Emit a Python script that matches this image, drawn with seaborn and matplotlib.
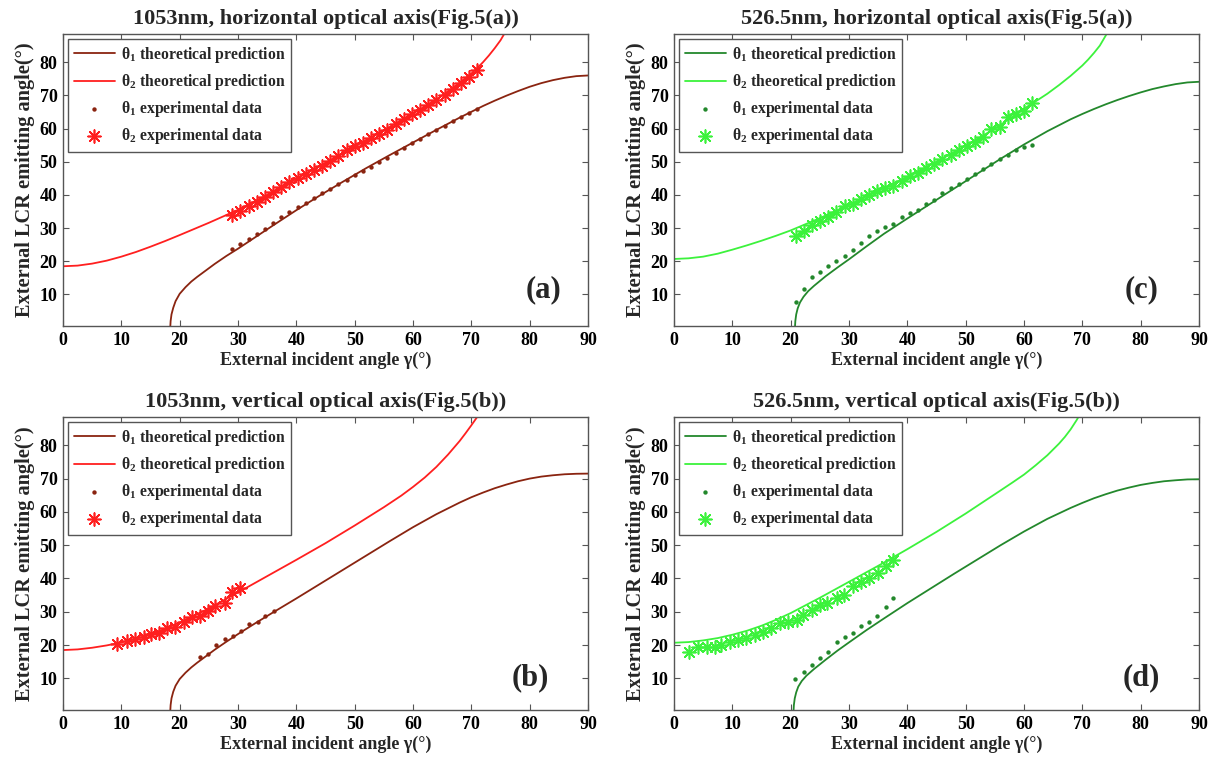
import matplotlib
matplotlib.use("Agg")
import matplotlib.pyplot as plt
import seaborn as sns

# ---------------- data: panel (a) 1053nm horizontal ----------------
a_th1_x = [18.4, 18.45, 18.6, 18.9, 19.3, 20, 21, 22, 23, 24, 26, 28, 30, 33, 36, 40, 44, 48, 52, 56, 60, 64, 68,
           72, 74, 76, 78, 80, 82, 84, 86, 88, 90]
a_th1_y = [0.5, 2.0, 4.0, 6.0, 8.0, 10.2, 12.2, 13.9, 15.3, 16.6, 19.2, 21.6, 23.8, 27.3, 30.8, 35.4, 39.8, 44.0,
           48.1, 52.0, 55.8, 59.6, 63.3, 66.8, 68.4, 69.9, 71.3, 72.6, 73.7, 74.6, 75.3, 75.8, 76.0]
a_th2_x = [0, 2.5, 5, 7.5, 10, 12.5, 15, 17.5, 20, 25, 30, 35, 40, 45, 50, 55, 60, 62, 64, 66, 68, 70, 71, 72,
           73, 74, 75, 75.8]
a_th2_y = [18.5, 18.7, 19.3, 20.2, 21.4, 22.8, 24.4, 26.1, 27.9, 31.6, 35.5, 40.0, 44.8, 49.7, 54.6, 59.5, 64.5,
           66.6, 68.8, 71.2, 73.8, 76.6, 78.2, 80.0, 82.0, 84.2, 86.6, 89.0]
a_exp_x = [29.0, 30.4, 31.8, 33.2, 34.6, 36.0, 37.4, 38.8, 40.2, 41.6, 43.0, 44.4, 45.8, 47.2, 48.6, 50.0,
           51.4, 52.8, 54.2, 55.6, 57.0, 58.4, 59.8, 61.2, 62.6, 64.0, 65.4, 66.8, 68.2, 69.6, 71.0]
a_exp1_y = [23.8, 25.3, 26.6, 28.1, 29.7, 31.5, 33.3, 34.8, 36.4, 37.7, 39.2, 40.5, 41.8, 43.2, 44.6, 45.9,
            47.3, 48.5, 49.9, 51.2, 52.6, 54.0, 55.6, 56.8, 58.4, 59.6, 60.9, 62.3, 63.6, 64.8, 65.8]
a_exp2_y = [34.0, 35.3, 36.7, 38.0, 39.5, 40.9, 42.3, 43.8, 45.1, 46.3, 47.6, 48.6, 50.2, 51.8, 53.4, 54.7,
            55.6, 57.3, 58.3, 59.6, 61.3, 62.8, 64.3, 65.6, 67.0, 68.6, 70.0, 71.8, 73.6, 75.4, 77.8]

# ---------------- data: panel (b) 1053nm vertical ----------------
b_th1_x = [18.4, 18.45, 18.6, 18.9, 19.3, 20, 21, 22, 23, 24, 26, 28, 30, 33, 36, 40, 44, 48, 52, 56, 60, 64, 68,
           70, 72, 74, 76, 78, 80, 82, 84, 86, 88, 90]
b_th1_y = [0.5, 2.0, 4.0, 6.0, 7.8, 9.8, 11.7, 13.3, 14.7, 16.0, 18.6, 21.0, 23.3, 26.6, 29.8, 34.0, 38.3, 42.6,
           46.9, 51.2, 55.4, 59.3, 62.8, 64.4, 65.8, 67.1, 68.2, 69.2, 70.0, 70.6, 71.0, 71.3, 71.45, 71.5]
b_th2_x = [0, 2.5, 5, 7.5, 10, 12.5, 15, 17.5, 20, 25, 30, 35, 40, 45, 50, 55, 58, 60, 62, 64, 66, 68, 69, 70,
           71, 71.5]
b_th2_y = [18.5, 18.7, 19.2, 19.9, 20.8, 21.9, 23.2, 24.9, 26.8, 31.0, 35.8, 40.7, 45.6, 50.6, 55.9, 61.4, 64.9,
           67.5, 70.3, 73.5, 77.2, 81.3, 83.6, 86.0, 88.5, 89.5]
b_exp1_x = [23.5, 24.9, 26.3, 27.7, 29.1, 30.5, 31.9, 33.4, 34.7, 36.1]
b_exp1_y = [16.3, 17.4, 20.0, 21.7, 22.8, 24.2, 26.3, 26.8, 28.8, 30.1]
b_exp2_x = [9.3, 10.9, 12.4, 13.8, 15.0, 16.5, 17.9, 19.2, 20.8, 22.1, 23.5, 24.9, 26.1, 27.7, 29.0, 30.4]
b_exp2_y = [20.2, 21.3, 21.9, 22.5, 23.4, 23.7, 25.1, 25.4, 27.0, 28.3, 28.8, 30.3, 31.8, 32.5, 35.9, 37.0]

# ---------------- data: panel (c) 526.5nm horizontal ----------------
c_th1_x = [20.75, 20.8, 20.95, 21.2, 21.6, 22.2, 23, 24, 26, 28, 30, 33, 36, 40, 44, 48, 52, 56, 60, 64, 68, 70,
           72, 74, 76, 78, 80, 82, 84, 86, 88, 90]
c_th1_y = [0.5, 2.0, 4.0, 5.8, 7.6, 9.3, 11.0, 12.6, 15.5, 18.1, 20.6, 24.5, 28.3, 32.9, 37.4, 41.9, 46.4, 50.9,
           55.2, 59.2, 62.8, 64.4, 65.9, 67.3, 68.6, 69.8, 70.9, 71.9, 72.7, 73.4, 73.9, 74.1]
c_th2_x = [0, 2.5, 5, 7.5, 10, 12.5, 15, 17.5, 20, 25, 30, 35, 40, 45, 50, 55, 58, 60, 62, 64, 66, 68, 70, 71,
           72, 73, 74, 74.3]
c_th2_y = [20.7, 20.9, 21.4, 22.3, 23.5, 24.8, 26.2, 27.7, 29.3, 33.0, 37.0, 41.2, 45.5, 50.0, 54.8, 60.0, 63.5,
           66.0, 68.2, 70.5, 73.1, 75.9, 79.0, 80.8, 82.8, 85.0, 88.0, 89.0]
c_exp_x = [20.9, 22.2, 23.6, 25.0, 26.4, 27.8, 29.3, 30.7, 32.1, 33.4, 34.8, 36.2, 37.6, 39.0, 40.4,
           41.8, 43.2, 44.6, 46.0, 47.4, 48.8, 50.2, 51.6, 53.0, 54.4, 55.8, 57.2, 58.6, 60.0, 61.3]
c_exp1_y = [7.8, 11.8, 15.2, 16.8, 18.7, 20.0, 21.5, 23.5, 25.6, 27.6, 29.1, 30.3, 31.3, 33.4, 34.6,
            35.6, 37.2, 38.6, 40.5, 42.0, 43.4, 44.9, 46.3, 47.7, 49.2, 50.8, 52.1, 53.5, 54.4, 55.0]
c_exp2_y = [27.6, 29.1, 30.9, 32.1, 33.4, 34.9, 36.7, 37.2, 38.7, 40.0, 41.2, 42.0, 42.7, 44.2, 45.7,
            46.7, 48.0, 49.4, 50.8, 52.0, 53.5, 54.8, 56.0, 57.6, 59.8, 60.5, 63.4, 64.3, 65.4, 67.6]

# ---------------- data: panel (d) 526.5nm vertical ----------------
d_th1_x = [20.5, 20.55, 20.7, 20.95, 21.3, 21.9, 22.7, 24, 26, 28, 30, 33, 36, 40, 44, 48, 52, 56, 60, 64, 68, 70,
           72, 74, 76, 78, 80, 82, 84, 86, 88, 90]
d_th1_y = [0.5, 2.0, 4.0, 5.8, 7.5, 9.2, 10.8, 12.8, 15.6, 18.3, 20.8, 24.5, 28.0, 32.6, 37.0, 41.4, 45.7, 50.0,
           54.1, 57.9, 61.2, 62.7, 64.1, 65.3, 66.4, 67.3, 68.1, 68.7, 69.2, 69.5, 69.75, 69.8]
d_th2_x = [0, 2.5, 5, 7.5, 10, 12.5, 15, 17.5, 20, 25, 30, 35, 40, 45, 50, 55, 58, 60, 62, 64, 66, 67, 68, 69,
           69.5]
d_th2_y = [20.7, 20.9, 21.4, 22.1, 23.1, 24.3, 25.8, 27.6, 29.6, 34.2, 39.0, 43.8, 48.8, 54.0, 59.5, 65.3, 68.8,
           71.2, 74.0, 77.0, 80.5, 82.5, 84.8, 87.5, 89.0]
d_exp1_x = [20.8, 22.2, 23.7, 25.0, 26.4, 27.9, 29.3, 30.7, 32.0, 33.4, 34.8, 36.3, 37.6]
d_exp1_y = [9.7, 11.8, 14.0, 16.0, 18.0, 20.8, 22.3, 23.5, 25.8, 27.0, 28.6, 31.3, 34.1]
d_exp2_x = [2.6, 4.1, 5.6, 7.0, 8.1, 9.6, 11.0, 12.4, 13.8, 15.3, 16.7, 18.1, 19.6, 21.0, 22.1, 23.6,
            25.0, 26.3, 27.9, 29.2, 30.6, 32.0, 33.4, 35.0, 36.3, 37.6]
d_exp2_y = [18.0, 19.5, 19.3, 19.5, 20.0, 20.8, 21.5, 22.0, 23.0, 24.0, 25.1, 26.6, 27.0, 27.6, 29.1, 30.6,
            32.1, 32.6, 34.1, 35.1, 37.6, 38.8, 40.1, 41.6, 43.6, 45.6]

titles = ["1053nm, horizontal optical axis(Fig.5(a))",
          "526.5nm, horizontal optical axis(Fig.5(a))",
          "1053nm, vertical optical axis(Fig.5(b))",
          "526.5nm, vertical optical axis(Fig.5(b))"]
tags = ["(a)", "(c)", "(b)", "(d)"]
x_ticks = [0, 10, 20, 30, 40, 50, 60, 70, 80, 90]
y_ticks = [10, 20, 30, 40, 50, 60, 70, 80]
legend_labels = [r"θ$_\mathbf{1}$ theoretical prediction", r"θ$_\mathbf{2}$ theoretical prediction",
                 r"θ$_\mathbf{1}$ experimental data", r"θ$_\mathbf{2}$ experimental data"]
xlabel = "External incident angle γ(°)"
ylabel = "External LCR emitting angle(°)"

red1, red2 = "#8a2410", "#ff1f1f"
grn1, grn2 = "#23882c", "#3cf23c"

sns.set_theme(style="ticks")
plt.rcParams.update({
    "font.family": ["Liberation Serif", "DejaVu Serif"],
    "font.weight": "bold",
    "axes.labelweight": "bold",
    "axes.titleweight": "bold",
    "mathtext.fontset": "custom",
    "mathtext.rm": "Liberation Serif:bold",
    "mathtext.bf": "Liberation Serif:bold",
    "mathtext.it": "Liberation Serif:italic:bold",
    "xtick.direction": "in",
    "ytick.direction": "in",
    "xtick.top": True,
    "ytick.right": True,
    "axes.edgecolor": "#555555",
    "axes.linewidth": 1.0,
    "xtick.color": "#555555",
    "ytick.color": "#555555",
    "xtick.labelcolor": "black",
    "ytick.labelcolor": "black",
})

W, H = 1217, 761
fig = plt.figure(figsize=(W / 100, H / 100), dpi=100)

boxes = [(63, 34, 588, 326), (674, 34, 1199, 326), (63, 417, 588, 710), (674, 417, 1199, 710)]
tagpos = [(0.915, 0.125), (0.89, 0.125), (0.89, 0.11), (0.89, 0.11)]

panels = [
    (a_th1_x, a_th1_y, a_th2_x, a_th2_y, a_exp_x, a_exp1_y, a_exp_x, a_exp2_y, red1, red2),
    (c_th1_x, c_th1_y, c_th2_x, c_th2_y, c_exp_x, c_exp1_y, c_exp_x, c_exp2_y, grn1, grn2),
    (b_th1_x, b_th1_y, b_th2_x, b_th2_y, b_exp1_x, b_exp1_y, b_exp2_x, b_exp2_y, red1, red2),
    (d_th1_x, d_th1_y, d_th2_x, d_th2_y, d_exp1_x, d_exp1_y, d_exp2_x, d_exp2_y, grn1, grn2),
]

for i, (p, box) in enumerate(zip(panels, boxes)):
    t1x, t1y, t2x, t2y, e1x, e1y, e2x, e2y, c1, c2 = p
    l, t, r, b = box
    ax = fig.add_axes([l / W, 1 - b / H, (r - l) / W, (b - t) / H])
    sns.lineplot(x=t1x, y=t1y, ax=ax, color=c1, linewidth=1.3, sort=False,
                 estimator=None, label=legend_labels[0])
    sns.lineplot(x=t2x, y=t2y, ax=ax, color=c2, linewidth=1.3, sort=False,
                 estimator=None, label=legend_labels[1])
    sns.scatterplot(x=e1x, y=e1y, ax=ax, color=c1, s=10, marker="o", linewidth=0,
                    label=legend_labels[2])
    sns.scatterplot(x=e2x, y=e2y, ax=ax, color=c2, edgecolor=c2, s=85, marker=(8, 2, 0),
                    linewidth=1.2, label=legend_labels[3])
    ax.set_xlim(0, 90)
    ax.set_ylim(0.5, 88.5)
    ax.set_xticks(x_ticks)
    ax.set_yticks(y_ticks)
    ax.tick_params(axis="both", labelsize=13, length=4, width=0.8, pad=4)
    for lab in ax.get_xticklabels() + ax.get_yticklabels():
        lab.set_fontweight("bold")
    ax.set_title(titles[i], fontsize=16, fontweight="bold", pad=7)
    ax.set_xlabel(xlabel, fontsize=13, fontweight="bold", labelpad=2)
    ax.set_ylabel(ylabel, fontsize=14.7, fontweight="bold", labelpad=3)
    ax.text(tagpos[i][0], tagpos[i][1], tags[i], transform=ax.transAxes, fontsize=22,
            fontweight="bold", ha="center", va="center")
    leg = ax.legend(loc="upper left", fontsize=11.3, frameon=True, fancybox=False,
                    edgecolor="#555555", framealpha=1, handlelength=2.6, handletextpad=0.4,
                    labelspacing=0.45, borderpad=0.35, borderaxespad=0.35)
    leg.get_frame().set_linewidth(1.0)
    for txt in leg.get_texts():
        txt.set_fontweight("bold")

fig.savefig("out.png", dpi=100)
